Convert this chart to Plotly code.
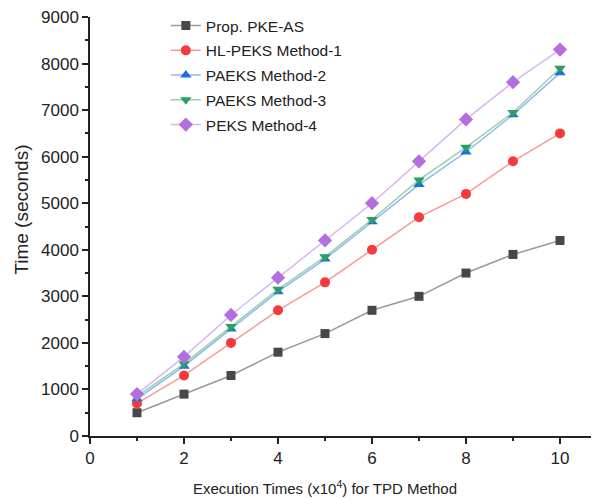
import plotly.graph_objects as go

x_vals = [1, 2, 3, 4, 5, 6, 7, 8, 9, 10]
prop_pke_as = [500, 900, 1300, 1800, 2200, 2700, 3000, 3500, 3900, 4200]
hl_peks_1 = [700, 1300, 2000, 2700, 3300, 4000, 4700, 5200, 5900, 6500]
paeks_2 = [800, 1500, 2300, 3100, 3800, 4600, 5400, 6100, 6900, 7800]
paeks_3 = [850, 1550, 2350, 3150, 3850, 4650, 5500, 6200, 6950, 7900]
peks_4 = [900, 1700, 2600, 3400, 4200, 5000, 5900, 6800, 7600, 8300]

series = [
    ("Prop. PKE-AS", prop_pke_as, "#474747", "#9a9a9a", "square", 9),
    ("HL-PEKS Method-1", hl_peks_1, "#f53a3a", "#f79a9a", "circle", 10),
    ("PAEKS Method-2", paeks_2, "#1e6fd9", "#8fb8ee", "triangle-up", 10),
    ("PAEKS Method-3", paeks_3, "#28a060", "#95d0af", "triangle-down", 10),
    ("PEKS Method-4", peks_4, "#b36ee0", "#d8b7f0", "diamond", 11),
]

fig = go.Figure()
for i, (name, ys, mc, lc, sym, sz) in enumerate(series):
    fig.add_trace(go.Scatter(
        x=x_vals, y=ys, name=name, mode="lines+markers", legendgroup="g%d" % i,
        line=dict(color=lc, width=1.5),
        marker=dict(color=mc, symbol=sym, size=sz, line=dict(width=0)),
    ))

font = "Liberation Sans, Arial, sans-serif"
fig.update_layout(
    width=599, height=499,
    margin=dict(l=82, r=8, t=9, b=71, autoexpand=False),
    paper_bgcolor="white", plot_bgcolor="white",
    font=dict(family=font, color="#222", size=15),
    showlegend=True,
    legend=dict(x=0.149, y=1.019, xanchor="left", yanchor="top",
                bgcolor="rgba(0,0,0,0)", font=dict(size=15.5, color="#222"),
                itemwidth=30, tracegroupgap=1.6),
    xaxis=dict(
        range=[0, 10.83], tickvals=[0, 2, 4, 6, 8, 10], automargin=False,
        ticklabeloverflow="allow",
        showgrid=False, zeroline=False, showline=True, linecolor="#222", linewidth=1.5,
        ticks="outside", ticklen=6, tickwidth=1.5, tickcolor="#222",
        minor=dict(tickvals=[1, 3, 5, 7, 9], ticks="outside", ticklen=3, tickwidth=1.5, tickcolor="#222"),
        tickfont=dict(size=17),
    ),
    yaxis=dict(
        range=[0, 9000], tickvals=list(range(0, 9001, 1000)), automargin=False,
        ticklabeloverflow="allow",
        showgrid=False, zeroline=False, showline=True, linecolor="#222", linewidth=1.5,
        ticks="outside", ticklen=6, tickwidth=1.5, tickcolor="#222",
        minor=dict(tickvals=list(range(500, 9000, 1000)), ticks="outside", ticklen=3, tickwidth=1.5, tickcolor="#222"),
        tickfont=dict(size=17),
    ),
    annotations=[
        dict(
            text="Execution Times (x10<sup>4</sup>) for TPD Method",
            xref="paper", yref="paper", x=0.462, y=-0.124,
            xanchor="center", yanchor="middle", showarrow=False,
            font=dict(size=15, color="#222"),
        ),
        dict(
            text="Time (seconds)", textangle=-90,
            xref="paper", yref="paper", x=-0.1336, y=0.54,
            xanchor="center", yanchor="middle", showarrow=False,
            font=dict(size=19, color="#222"),
        ),
    ],
)

fig.write_html("out.html")
